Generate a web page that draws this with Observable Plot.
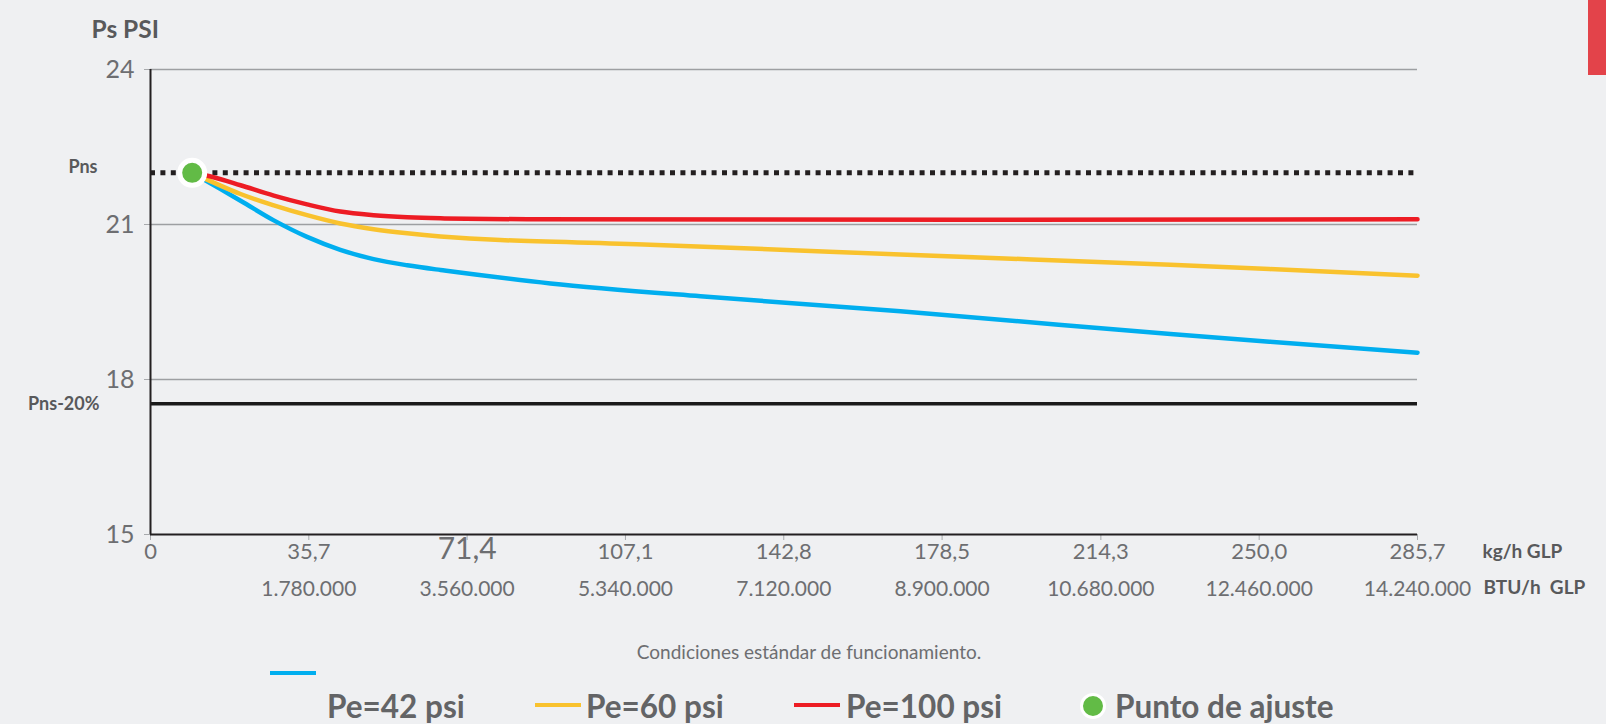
<!DOCTYPE html>
<html>
<head>
<meta charset="utf-8">
<script src="https://cdn.jsdelivr.net/npm/d3@7"></script>
<script src="https://cdn.jsdelivr.net/npm/@observablehq/plot@0.6"></script>
<style>
  html, body { margin: 0; padding: 0; background: #eff0f2; width: 1606px; height: 724px; overflow: hidden; }
  #wrap { position: relative; width: 1606px; height: 724px; font-family: Lato, "Open Sans", sans-serif; }
  #chart { position: absolute; left: 0; top: 0; }
  .abs { position: absolute; white-space: nowrap; }
  .sw { position: absolute; height: 4px; width: 46px; }
  .lg { position: absolute; font-weight: 700; font-size: 31.5px; color: #636466; line-height: 36px; height: 36px; white-space: nowrap; }
</style>
</head>
<body>
<div id="wrap">
  <div id="chart"></div>
  <div class="abs" style="left:1588px;top:0;width:18px;height:75px;background:#e3434a;"></div>
  <div class="abs" id="caption" style="left:0;width:1618px;top:641px;text-align:center;font-size:19px;font-weight:400;color:#6d6e71;line-height:22px;"></div>
  <div id="legend"></div>
</div>
<script>
// ---- data ----
const xTicks = [0, 35.7, 71.4, 107.1, 142.8, 178.5, 214.3, 250.0, 285.7];
const kgLabels = ["0", "35,7", "71,4", "107,1", "142,8", "178,5", "214,3", "250,0", "285,7"];
const btuLabels = ["", "1.780.000", "3.560.000", "5.340.000", "7.120.000", "8.900.000", "10.680.000", "12.460.000", "14.240.000"];
const yTicks = [15, 18, 21, 24];
const gridValues = [18, 21, 24];
const pnsValue = 22;
const pns20Value = 17.53;
const setPointX = 9.4;
const setPointY = 22;

const blueX = [9.4, 20.3, 27.8, 35.3, 42.8, 50.3, 57.9, 65.4, 90.2, 124, 169.1, 230, 285.7];
const blueY = [22.0, 21.46, 21.08, 20.76, 20.51, 20.33, 20.21, 20.12, 19.86, 19.61, 19.32, 18.88, 18.52];
const yellowX = [9.4, 20.3, 27.8, 35.3, 42.8, 50.3, 57.9, 65.4, 78.9, 112.7, 169.1, 230, 285.7];
const yellowY = [22.0, 21.59, 21.37, 21.18, 21.02, 20.91, 20.83, 20.77, 20.70, 20.61, 20.42, 20.22, 20.01];
const redX = [9.4, 14, 20.3, 27.8, 35.3, 42.8, 50.3, 57.9, 65.4, 85, 285.7];
const redY = [22.0, 21.92, 21.76, 21.56, 21.39, 21.25, 21.18, 21.14, 21.12, 21.10, 21.10];

const seriesNames = ["Pe=42 psi", "Pe=60 psi", "Pe=100 psi"];
const seriesColors = ["#00aeef", "#f9c22e", "#ed1c24"];
const pointName = "Punto de ajuste";
const captionText = "Condiciones estándar de funcionamiento.";
const yTitle = "Ps PSI";
const xUnit1 = "kg/h GLP";
const xUnit2 = "BTU/h  GLP";

// ---- build ----
const xMax = xTicks[xTicks.length - 1];
const toPts = (xs, ys) => ys.map((y, i) => ({x: xs[i], y}));
const tickRows = xTicks.map((v, i) => ({v, kg: kgLabels[i], btu: btuLabels[i], big: i === 2}));
const lineOpts = (c) => ({x: "x", y: "y", stroke: c, strokeWidth: 4.5, curve: "catmull-rom"});

const chart = Plot.plot({
  width: 1606,
  height: 620,
  marginLeft: 150,
  marginRight: 189,
  marginTop: 69,
  marginBottom: 86,
  style: {background: "transparent", fontFamily: "Lato, 'Open Sans', sans-serif", overflow: "visible"},
  x: {domain: [0, xMax]},
  y: {domain: [15, 24]},
  marks: [
    Plot.ruleY(gridValues, {x1: 0, x2: xMax, stroke: "#9d9fa2", strokeWidth: 1.5}),
    Plot.axisY({ticks: yTicks, label: null, tickSize: 6, tickPadding: 10, stroke: "#a7a9ac", fill: "#6d6e71", fontSize: 25, fontWeight: 400, tickFormat: d => String(d)}),
    Plot.axisX({ticks: xTicks, label: null, tickSize: 6, stroke: "#a7a9ac", tickFormat: () => ""}),
    Plot.text(tickRows, {x: "v", frameAnchor: "bottom", dy: 24, text: "kg", fontSize: d => d.big ? 30 : 22, fontWeight: 400, fill: "#6d6e71"}),
    Plot.text(tickRows, {x: "v", frameAnchor: "bottom", dy: 61, text: "btu", fontSize: 21, fontWeight: 400, fill: "#6d6e71"}),
    Plot.text([xUnit1], {x: xMax, frameAnchor: "bottom", dx: 65, dy: 23, textAnchor: "start", fontSize: 19, fontWeight: 700, fill: "#58595b"}),
    Plot.text([xUnit2], {x: xMax, frameAnchor: "bottom", dx: 66, dy: 59, textAnchor: "start", fontSize: 19, fontWeight: 700, fill: "#58595b"}),
    Plot.text([yTitle], {frameAnchor: "top-left", dx: -59, dy: -49, textAnchor: "start", fontSize: 24.5, fontWeight: 700, fill: "#58595b"}),
    Plot.ruleY([pns20Value], {x1: 0, x2: xMax, stroke: "#1a1a1a", strokeWidth: 3.5}),
    Plot.ruleY([pnsValue], {x1: 0, x2: xMax, stroke: "#231f20", strokeWidth: 5, strokeDasharray: "5,5.4"}),
    Plot.text(["Pns"], {x: 0, y: pnsValue, dx: -53, dy: -6, textAnchor: "end", fontSize: 18, fontWeight: 700, fill: "#58595b"}),
    Plot.text(["Pns-20%"], {x: 0, y: pns20Value, dx: -51, dy: 0, textAnchor: "end", fontSize: 18, fontWeight: 700, fill: "#58595b"}),
    Plot.ruleX([0], {y1: 15, y2: 24, stroke: "#231f20", strokeWidth: 2}),
    Plot.ruleY([15], {x1: 0, x2: xMax, stroke: "#231f20", strokeWidth: 2}),
    Plot.line(toPts(blueX, blueY), lineOpts(seriesColors[0])),
    Plot.line(toPts(yellowX, yellowY), lineOpts(seriesColors[1])),
    Plot.line(toPts(redX, redY), lineOpts(seriesColors[2])),
    Plot.dot([{x: setPointX, y: setPointY}], {x: "x", y: "y", r: 12.5, fill: "#62bb46", stroke: "white", strokeWidth: 5})
  ]
});
document.getElementById("chart").appendChild(chart);
document.getElementById("caption").textContent = captionText;

// ---- legend ----
const lg = document.getElementById("legend");
const swatchPos = [[270, 671], [535, 703], [794, 703]];
const textLeft = [327, 586, 846];
seriesNames.forEach((name, i) => {
  const s = document.createElement("div");
  s.className = "sw";
  s.style.left = swatchPos[i][0] + "px";
  s.style.top = swatchPos[i][1] + "px";
  s.style.background = seriesColors[i];
  lg.appendChild(s);
  const t = document.createElement("div");
  t.className = "lg";
  t.style.left = textLeft[i] + "px";
  t.style.top = "688px";
  t.textContent = name;
  lg.appendChild(t);
});
const dot = document.createElement("div");
dot.className = "abs";
dot.style.cssText = "left:1080px;top:693px;width:20px;height:20px;border-radius:50%;background:#62bb46;border:3.5px solid white;";
lg.appendChild(dot);
const pt = document.createElement("div");
pt.className = "lg";
pt.style.left = "1115px";
pt.style.top = "688px";
pt.textContent = pointName;
lg.appendChild(pt);
</script>
</body>
</html>
